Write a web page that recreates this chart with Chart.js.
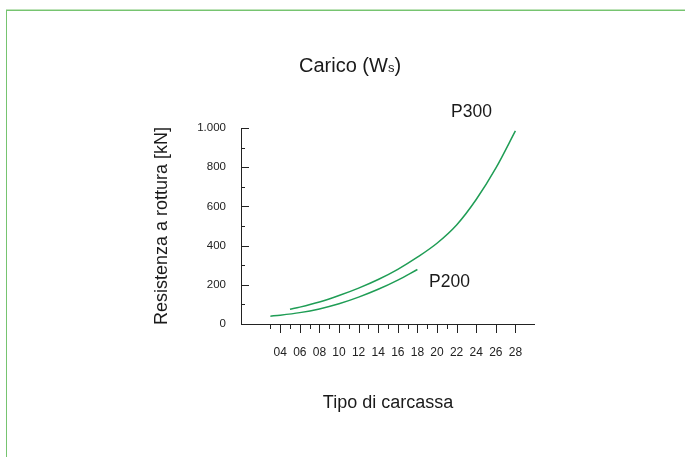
<!DOCTYPE html>
<html>
<head>
<meta charset="utf-8">
<script src="https://cdn.jsdelivr.net/npm/chart.js@4.4.1/dist/chart.umd.min.js"></script>
<style>
  html, body { margin: 0; padding: 0; background: #ffffff; }
  #wrap { position: relative; width: 685px; height: 457px; }
</style>
</head>
<body>
<div id="wrap"><canvas id="c" width="685" height="457"></canvas></div>
<script>
// ---- data ----
const p300X = [5, 6, 8, 10, 12, 14, 16, 18, 20, 22, 24, 26, 28];
const p300Y = [75, 86, 112, 145, 183, 227, 279, 341, 412, 505, 635, 795, 985];
const p200X = [3, 4, 6, 8, 10, 12, 14, 16, 18];
const p200Y = [40, 45, 58, 77, 103, 137, 177, 224, 278];
const xLabelTicks = [4, 6, 8, 10, 12, 14, 16, 18, 20, 22, 24, 26, 28];
const xMinorTicks = [3, 5, 7, 9, 11, 13, 15, 17, 19, 21];
const yMajorTicks = [0, 200, 400, 600, 800, 1000];
const yMinorTicks = [100, 300, 500, 700, 900];
const seriesNames = ['P300', 'P200'];
const chartTitle = 'Carico (W';
const chartTitleSub = 's';
const xTitle = 'Tipo di carcassa';
const yTitle = 'Resistenza a rottura [kN]';

const FONT = '"Liberation Sans", Arial, Helvetica, sans-serif';
const LINE = '#1f9d55';
const AXIS = '#222222';
const TEXT = '#1a1a1a';

function pts(xs, ys) { return xs.map((x, i) => ({ x: x, y: ys[i] })); }

const decor = {
  id: 'decor',
  beforeDraw(chart) {
    const ctx = chart.ctx;
    ctx.save();
    ctx.fillStyle = '#ffffff';
    ctx.fillRect(0, 0, chart.width, chart.height);
    // green frame
    ctx.fillStyle = '#bfe3ba';
    ctx.fillRect(6, 9, chart.width - 6, 1);
    ctx.fillStyle = '#76c470';
    ctx.fillRect(6, 10, chart.width - 6, 1);
    ctx.fillRect(6, 10, 1, chart.height - 10);
    ctx.restore();
  },
  afterDraw(chart) {
    const ctx = chart.ctx;
    const xs = chart.scales.x, ys = chart.scales.y;
    const ax = Math.round(xs.getPixelForValue(0));
    const axEnd = Math.round(xs.getPixelForValue(30));
    const ay = Math.round(ys.getPixelForValue(0));
    const ayTop = Math.round(ys.getPixelForValue(1000));
    ctx.save();
    ctx.fillStyle = AXIS;
    // axis lines
    ctx.fillRect(ax, ayTop, 1, ay - ayTop + 1);
    ctx.fillRect(ax, ay, axEnd - ax, 1);
    // y ticks (inward)
    yMajorTicks.forEach(v => {
      const p = Math.round(ys.getPixelForValue(v));
      ctx.fillRect(ax, p, 8, 1);
    });
    yMinorTicks.forEach(v => {
      const p = Math.round(ys.getPixelForValue(v));
      ctx.fillRect(ax, p, 4, 1);
    });
    // x ticks (downward)
    xLabelTicks.forEach(v => {
      const p = Math.round(xs.getPixelForValue(v));
      ctx.fillRect(p, ay, 1, 9);
    });
    xMinorTicks.forEach(v => {
      const p = Math.round(xs.getPixelForValue(v));
      ctx.fillRect(p, ay, 1, 5);
    });

    ctx.fillStyle = TEXT;
    ctx.textBaseline = 'alphabetic';
    // chart title with subscript
    ctx.font = '20px ' + FONT;
    ctx.textAlign = 'left';
    let tx = 299;
    const tBase = 72;
    ctx.fillText(chartTitle, tx, tBase);
    tx += ctx.measureText(chartTitle).width;
    ctx.font = '13px ' + FONT;
    ctx.fillText(chartTitleSub, tx, tBase);
    tx += ctx.measureText(chartTitleSub).width;
    ctx.font = '20px ' + FONT;
    ctx.fillText(')', tx, tBase);

    // series labels
    ctx.font = '17.5px ' + FONT;
    ctx.fillText(seriesNames[0], 451, 117);
    ctx.fillText(seriesNames[1], 429, 287);

    // axis titles
    ctx.font = '18px ' + FONT;
    ctx.textAlign = 'center';
    ctx.textBaseline = 'middle';
    ctx.fillText(xTitle, (ax + axEnd) / 2, 403);
    ctx.translate(162, (ay + ayTop) / 2);
    ctx.rotate(-Math.PI / 2);
    ctx.fillText(yTitle, 0, 0);
    ctx.restore();
  }
};

new Chart(document.getElementById('c'), {
  type: 'line',
  data: {
    datasets: [
      { label: seriesNames[0], data: pts(p300X, p300Y) },
      { label: seriesNames[1], data: pts(p200X, p200Y) }
    ]
  },
  options: {
    responsive: false,
    animation: false,
    devicePixelRatio: 1,
    layout: { padding: { left: 0, right: 150, top: 128, bottom: 0 } },
    elements: {
      line: { borderColor: LINE, borderWidth: 1.5, cubicInterpolationMode: 'monotone', fill: false },
      point: { radius: 0, hoverRadius: 0 }
    },
    plugins: { legend: { display: false }, title: { display: false }, tooltip: { enabled: false } },
    scales: {
      x: {
        type: 'linear', min: 0, max: 30,
        grid: { display: false, drawTicks: false },
        border: { display: false },
        afterBuildTicks: s => { s.ticks = xLabelTicks.map(v => ({ value: v })); },
        afterFit: s => { s.height = 133; },
        ticks: {
          autoSkip: false, maxRotation: 0, padding: 21,
          color: '#222', font: { family: FONT, size: 12 },
          callback: v => String(v).padStart(2, '0')
        }
      },
      y: {
        min: 0, max: 1000,
        grid: { display: false, drawTicks: false },
        border: { display: false },
        afterBuildTicks: s => { s.ticks = yMajorTicks.map(v => ({ value: v })); },
        afterFit: s => { s.width = 241; },
        ticks: {
          padding: 15,
          color: '#222', font: { family: FONT, size: 11.5 },
          callback: v => v >= 1000 ? Math.floor(v / 1000) + '.' + String(v % 1000).padStart(3, '0') : String(v)
        }
      }
    }
  },
  plugins: [decor]
});
</script>
</body>
</html>
